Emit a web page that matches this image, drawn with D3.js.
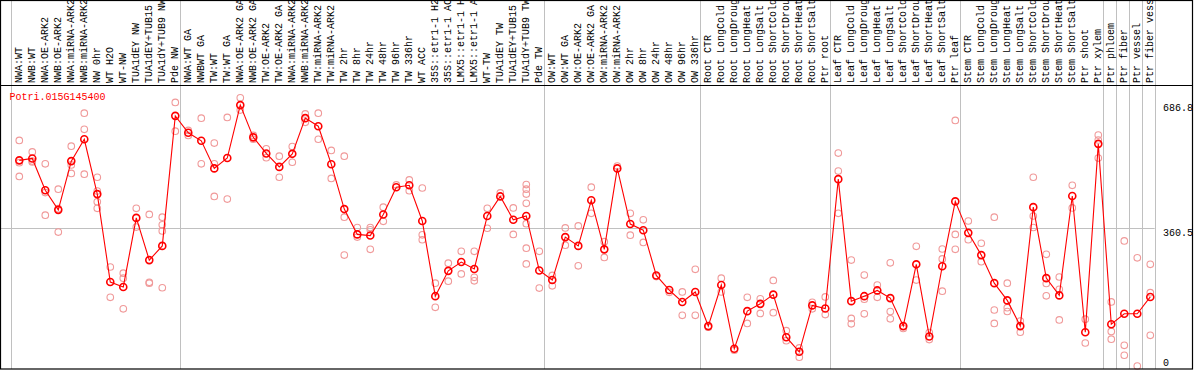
<!DOCTYPE html>
<html><head><meta charset="utf-8">
<script src="https://cdn.jsdelivr.net/npm/d3@7"></script>
<style>body{margin:0;background:#fff}svg{display:block}text{font-family:"Liberation Mono","DejaVu Sans Mono",monospace;font-size:10px}</style>
</head><body>
<script>
const geneName = "Potri.015G145400";
const categories = ["NWA:WT","NWB:WT","NWA:OE-ARK2","NWB:OE-ARK2","NWA:miRNA-ARK2","NWB:miRNA-ARK2","NW 0hr","WT H2O","WT-NW","TUA1dEY NW","TUA1dEY+TUB15","TUA1dY+TUB9 NW","Pde NW",
"NWA:WT GA","NWBWT GA","TW:WT","TW:WT GA","NWA:OE-ARK2 GA","NWB:OE-ARK2 GA","TW:OE-ARK2","TW:OE-ARK2 GA","NWA:miRNA-ARK2","NWB:miRNA-ARK2","TW:miRNA-ARK2","TW:miRNA-ARK2","TW 2hr","TW 8hr","TW 24hr","TW 48hr","TW 96hr","TW 336hr","WT ACC","35S::etr1-1 H2","35S::etr1-1 AC","LMX5::etr1-1 H","LMX5::etr1-1 A","WT-TW","TUA1dEY TW","TUA1dEY+TUB15","TUA1dY+TUB9 TW","Pde TW",
"OW:WT","OW:WT GA","OW:OE-ARK2","OW:OE-ARK2 GA","OW:miRNA-ARK2","OW:miRNA-ARK2","OW 2hr","OW 8hr","OW 24hr","OW 48hr","OW 96hr","OW 336hr",
"Root CTR","Root LongCold","Root LongDroug","Root LongHeat","Root LongSalt","Root ShortCold","Root ShortDrou","Root ShortHeat","Root ShortSalt","Ptr root",
"Leaf CTR","Leaf LongCold","Leaf LongDroug","Leaf LongHeat","Leaf LongSalt","Leaf ShortCold","Leaf ShortDrou","Leaf ShortHeat","Leaf ShortSalt","Ptr leaf",
"Stem CTR","Stem LongCold","Stem LongDroug","Stem LongHeat","Stem LongSalt","Stem ShortCold","Stem ShortDrou","Stem ShortHeat","Stem ShortSalt","Ptr shoot","Ptr xylem",
"Ptr phloem","Ptr fiber","Ptr vessel","Ptr fiber vess"];
const groupStarts = [0, 13, 41, 53, 63, 73, 84, 85, 86, 87, 88];
const meanValues = [536,541,458,407,534,591,448,219,206,386,276,313,652,
608,587,515,542,680,596,554,519,553,646,625,526,409,343,340,395,466,471,378,182,248,271,253,391,442,381,391,249,
224,336,313,432,304,515,370,354,236,198,167,193,
104,211,45,143,162,186,75,37,158,150,
487,169,182,197,177,104,265,77,260,429,
347,289,216,171,104,414,229,184,443,88,579,
109,136,136,180];
const replicates = [
[588,530,494],[558,532,534],[527,452,393],[461,349,410],[573,524,502],[659,617,500],[492,456,428,411],[258,179],[242,229,149],[411,362],[395,216,218],[388,368,352,204],[687,612],
[614,601],[646,527],[581,527,442],[648,435],[699,667],[601,591],[566,543],[547,492],[572,531],[657,635],[659,591],[562,489],[547,388,289],[361,336],[361,355,304],[414,377],[472],[485,457],[464,342,329],[216,153],[268,221],[299,240],[299,231,222],[411,359],[451],[412,343],[473,461,448,424,371,307,266],[299,203],
[236,209],[360,315],[365,261],[466,398],[324,283],[521],[398,341],[381,322],[233],[192],[193,132],[252,132],
[101],[229,193],[41],[179,111],[175,137],[223,139],[92,66],[47,23],[166,149],[180,134],
[555,508,398],[276,124,110],[237,174,136],[211,179],[269,142,123],[98],[312,224],[87,69],[305,279,195],[640,343,304],
[378,329],[320,272],[388,146,111],[216,152,142],[117,88],[492,391,361],[291,215,183],[232,200,120],[471,412],[122,60],[602,589,542],
[167,90,70],[326,54,28],[282,0],[265,191,80]];
const yTicks = [0, 360.5, 686.8];

const W = 1194, H = 370;
const svg = d3.select("body").append("svg").attr("width", W).attr("height", H);

const x = d3.scaleBand().domain(d3.range(categories.length)).range([10.7, 10.7 + 13 * categories.length]).paddingInner(0).paddingOuter(0);
const cx = i => x(i) + x.bandwidth() * 0.66;
const y = d3.scaleLinear().domain([0, 686.8]).range([366, 102.5]);

// vertical separators
svg.append("g").selectAll("line").data(groupStarts).join("line")
  .attr("x1", d => Math.round(d < categories.length ? x(d) : x(categories.length - 1) + x.bandwidth()) + 0.5)
  .attr("x2", d => Math.round(d < categories.length ? x(d) : x(categories.length - 1) + x.bandwidth()) + 0.5)
  .attr("y1", 1).attr("y2", 369).attr("stroke", "#c0c0c0").attr("stroke-width", 1);

// horizontal mid gridline
svg.append("line").attr("x1", 1).attr("x2", x(categories.length - 1) + x.bandwidth())
  .attr("y1", Math.round(y(360.5)) + 0.5).attr("y2", Math.round(y(360.5)) + 0.5)
  .attr("stroke", "#c0c0c0");

// column labels
svg.append("g").selectAll("text").data(categories).join("text")
  .attr("transform", (d, i) => `translate(${cx(i) + 2.6},83) rotate(-90)`)
  .attr("fill", "#000").text(d => d);

// title
svg.append("text").attr("x", 9.5).attr("y", 100).attr("fill", "#ff0000").text(geneName);

// y tick labels
svg.append("g").selectAll("text").data(yTicks).join("text")
  .attr("x", 1163)
  .attr("y", d => d === 0 ? y(d) : y(d) + 8)
  .attr("fill", "#000").text(d => d === 0 ? "0" : d3.format(".1f")(d));

// replicate points
const repPts = [];
replicates.forEach((arr, i) => arr.forEach(v => repPts.push({i, v})));
svg.append("g").selectAll("circle").data(repPts).join("circle")
  .attr("cx", d => cx(d.i)).attr("cy", d => y(d.v)).attr("r", 3.3)
  .attr("fill", "none").attr("stroke", "#f09a9a").attr("stroke-width", 1.1);

// mean line
svg.append("path").datum(meanValues)
  .attr("d", d3.line().x((d, i) => cx(i)).y(d => y(d)))
  .attr("fill", "none").attr("stroke", "#ff0000").attr("stroke-width", 1.1);

// mean points
svg.append("g").selectAll("circle").data(meanValues).join("circle")
  .attr("cx", (d, i) => cx(i)).attr("cy", d => y(d)).attr("r", 3.5)
  .attr("fill", "none").attr("stroke", "#ff0000").attr("stroke-width", 1.6);

// mask right of frame and frame on top
svg.append("rect").attr("x", 1193).attr("y", 0).attr("width", 1).attr("height", H).attr("fill", "#fff");
svg.append("rect").attr("x", 0.5).attr("y", 0.5).attr("width", 1192).attr("height", 368.5)
  .attr("fill", "none").attr("stroke", "#000").attr("stroke-width", 1.2);
svg.append("line").attr("x1", 0).attr("x2", 1193).attr("y1", 85.5).attr("y2", 85.5).attr("stroke", "#000").attr("stroke-width", 1.2);
</script>
</body></html>
